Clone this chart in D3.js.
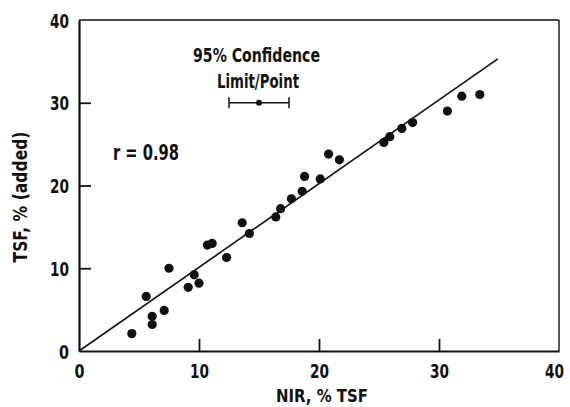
<!DOCTYPE html>
<html>
<head>
<meta charset="utf-8">
<script src="https://cdn.jsdelivr.net/npm/d3@7"></script>
<style>
  html, body { margin: 0; padding: 0; background: #fff; }
  svg { display: block; }
  text { font-family: "DejaVu Sans Condensed", "DejaVu Sans", sans-serif; font-weight: bold; fill: #111; }
</style>
</head>
<body>
<svg id="chart" width="570" height="407"></svg>
<script>
// ---- data ----
const nirX = [4.4, 5.6, 6.1, 6.1, 7.1, 7.5, 9.1, 9.6, 10.0, 10.7, 11.1, 12.3,
              13.6, 14.2, 16.4, 16.8, 17.7, 18.6, 18.8, 20.1, 20.8, 21.7,
              25.4, 25.9, 26.9, 27.8, 30.7, 31.9, 33.4];
const tsfY = [2.1, 6.6, 4.2, 3.2, 4.9, 10.0, 7.7, 9.2, 8.2, 12.8, 13.0, 11.3,
              15.5, 14.2, 16.2, 17.2, 18.4, 19.3, 21.1, 20.8, 23.8, 23.1,
              25.2, 25.9, 26.9, 27.6, 29.0, 30.8, 31.0];
const fitLine = [[0, 0], [34.9, 35.3]];
const confPoint = [15, 30];
const confHalfWidth = 2.5;
const xTicks = [0, 10, 20, 30, 40];
const yTicks = [0, 10, 20, 30, 40];
const xTitle = "NIR, % TSF";
const yTitle = "TSF, % (added)";
const rText = "r = 0.98";
const confLabel = ["95% Confidence", "Limit/Point"];

// ---- layout ----
const svg = d3.select("#chart");
const L = 79, R = 559, T = 20, B = 351;
const x = d3.scaleLinear().domain([0, 40]).range([L, R]);
const y = d3.scaleLinear().domain([0, 40]).range([B, T]);

// frame top/right (thinner)
svg.append("line").attr("x1", L).attr("x2", R).attr("y1", T).attr("y2", T)
  .attr("stroke", "#111").attr("stroke-width", 1.4);
svg.append("line").attr("x1", R).attr("x2", R).attr("y1", T).attr("y2", B)
  .attr("stroke", "#111").attr("stroke-width", 1.4);

// axes
const xAxis = d3.axisBottom(x).tickValues(xTicks).tickSizeInner(-12).tickSizeOuter(0).tickPadding(13).tickFormat(d3.format("d"));
const yAxis = d3.axisLeft(y).tickValues(yTicks).tickSizeInner(-12).tickSizeOuter(0).tickPadding(10).tickFormat(d3.format("d"));

const gx = svg.append("g").attr("transform", `translate(0,${B})`).call(xAxis);
const gy = svg.append("g").attr("transform", `translate(${L},0)`).call(yAxis);
[gx, gy].forEach(g => {
  g.select(".domain").attr("stroke", "#111").attr("stroke-width", 2.2);
  g.selectAll(".tick line").attr("stroke", "#111").attr("stroke-width", 1.8);
  g.selectAll(".tick text").style("font-size", "20px").attr("fill", "#111")
    .style("font-family", '"DejaVu Sans Condensed", "DejaVu Sans", sans-serif').style("font-weight", "bold")
    .attr("textLength", d => d < 10 ? 10 : 19).attr("lengthAdjust", "spacingAndGlyphs");
});
// keep the rightmost x label inside the picture
gx.selectAll(".tick").filter(d => d === 40).select("text").attr("x", -5);
// hide tick marks on the ends (0 and 40)
gx.selectAll(".tick").filter(d => d === 0 || d === 40).select("line").remove();
gy.selectAll(".tick").filter(d => d === 0 || d === 40).select("line").remove();
gy.selectAll(".tick text").attr("dy", "0.36em");

function label(txt, xp, yp, size, len, anchor) {
  return svg.append("text").attr("x", xp).attr("y", yp).attr("text-anchor", anchor || "middle")
    .style("font-size", size + "px").attr("textLength", len).attr("lengthAdjust", "spacingAndGlyphs").text(txt);
}

// axis titles
label(xTitle, 322, 402, 18, 92);
svg.append("text").attr("transform", "translate(27,197) rotate(-90)").attr("text-anchor", "middle")
  .style("font-size", "19px").attr("textLength", 131).attr("lengthAdjust", "spacingAndGlyphs").text(yTitle);

// fitted line
svg.append("line")
  .attr("x1", x(fitLine[0][0])).attr("y1", y(fitLine[0][1]))
  .attr("x2", x(fitLine[1][0])).attr("y2", y(fitLine[1][1]))
  .attr("stroke", "#111").attr("stroke-width", 1.6);

// points
svg.append("g").selectAll("circle").data(nirX.map((v, i) => [v, tsfY[i]])).join("circle")
  .attr("cx", d => x(d[0])).attr("cy", d => y(d[1])).attr("r", 4.6).attr("fill", "#111");

// confidence bar
const cy = y(confPoint[1]);
const cx1 = x(confPoint[0] - confHalfWidth), cx2 = x(confPoint[0] + confHalfWidth);
svg.append("line").attr("x1", cx1).attr("x2", cx2).attr("y1", cy).attr("y2", cy).attr("stroke", "#111").attr("stroke-width", 1.5);
[cx1, cx2].forEach(cx => svg.append("line").attr("x1", cx).attr("x2", cx).attr("y1", cy - 5.5).attr("y2", cy + 5.5).attr("stroke", "#111").attr("stroke-width", 1.5));
svg.append("circle").attr("cx", x(confPoint[0])).attr("cy", cy).attr("r", 3).attr("fill", "#111");

label(confLabel[0], 256.5, 62, 20, 127);
label(confLabel[1], 258, 88, 20, 82);
label(rText, 113, 160, 21, 66, "start");
</script>
</body>
</html>
